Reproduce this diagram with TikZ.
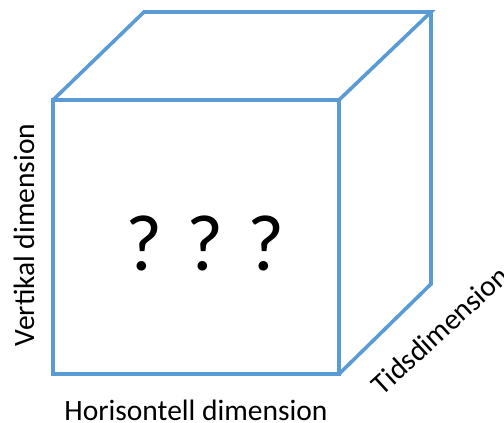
\documentclass[tikz,border=0pt]{standalone}
\usepackage{fontspec}
\setmainfont{Carlito}
\definecolor{edgeblue}{RGB}{91,155,213}
\begin{document}
\begin{tikzpicture}[x=1pt,y=-1pt,
  edge/.style={draw=edgeblue,line width=3.6pt,line join=miter},
  lbl/.style={font=\fontsize{29.5}{34}\selectfont,text=black,inner sep=0pt}]
\useasboundingbox (0,0) rectangle (504,423);
\coordinate (ftl) at (53,100);
\coordinate (ftr) at (339,100);
\coordinate (fbr) at (339,374);
\coordinate (fbl) at (53,374);
\coordinate (btl) at (144,12);
\coordinate (btr) at (431,12);
\coordinate (bbr) at (431,284);
\draw[edge] (ftl) -- (ftr) -- (fbr) -- (fbl) -- cycle;
\draw[edge] (ftl) -- (btl) -- (btr) -- (ftr);
\draw[edge] (btr) -- (bbr) -- (fbr);
\node[inner sep=0pt,font=\fontsize{80}{90}\selectfont] (q) at (205,243) {? ? ?};
\node[lbl,rotate=90] (v) at (24,235) {Vertikal dimension};
\node[lbl] (h) at (196,410) {Horisontell dimension};
\node[lbl,rotate=42.6] (t) at (440,330) {Tidsdimension};
\end{tikzpicture}
\end{document}
